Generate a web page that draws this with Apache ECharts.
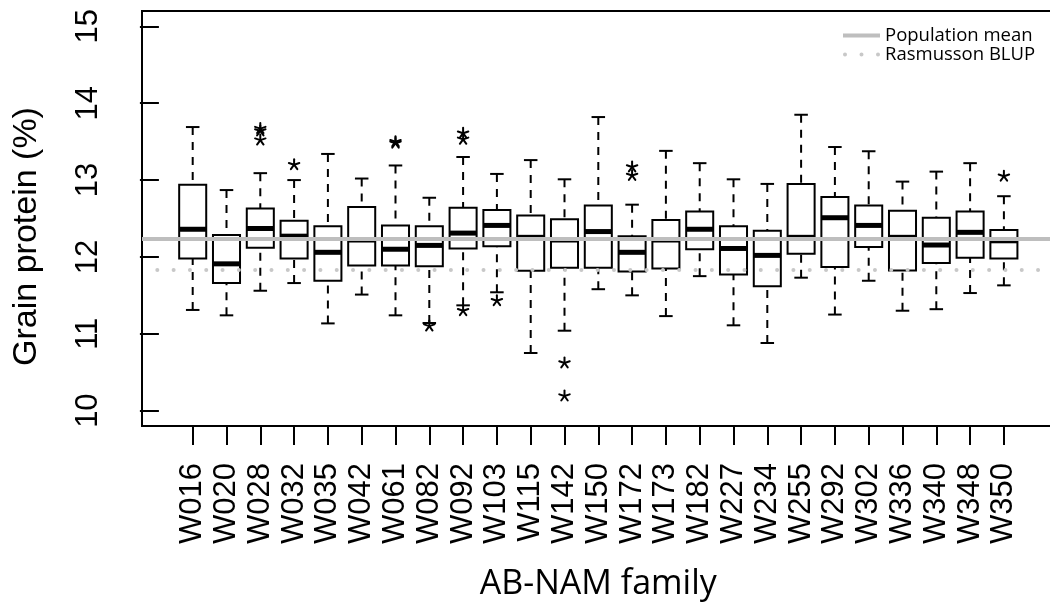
<!DOCTYPE html>
<html>
<head>
<meta charset="utf-8">
<script src="https://cdn.jsdelivr.net/npm/echarts@6/dist/echarts.min.js"></script>
<style>
  html, body { margin: 0; padding: 0; background: #fff; }
  #chart { width: 1050px; height: 602px; }
</style>
</head>
<body>
<div id="chart"></div>
<script>
// AB-NAM families on the x axis
const families = ['W016','W020','W028','W032','W035','W042','W061','W082','W092','W103','W115','W142','W150',
                  'W172','W173','W182','W227','W234','W255','W292','W302','W336','W340','W348','W350'];

// Box-plot statistics per family (grain protein, %)
const whiskerLow  = [11.31,11.24,11.56,11.66,11.135,11.51,11.24,11.14,11.37,11.54,10.75,11.04,11.58,
                     11.50,11.23,11.75,11.11,10.88,11.73,11.25,11.69,11.30,11.32,11.53,11.63];
const quartile1   = [11.98,11.66,12.12,11.98,11.69,11.89,11.89,11.88,12.11,12.14,11.82,11.86,11.86,
                     11.81,11.85,12.10,11.77,11.62,12.04,11.87,12.13,11.825,11.92,11.99,11.98];
const median      = [12.36,11.91,12.37,12.27,12.06,12.22,12.10,12.15,12.31,12.41,12.255,12.22,12.33,
                     12.06,12.22,12.36,12.11,12.02,12.255,12.51,12.41,12.255,12.155,12.32,12.21];
const quartile3   = [12.94,12.285,12.63,12.47,12.40,12.65,12.41,12.40,12.64,12.61,12.54,12.49,12.67,
                     12.27,12.48,12.59,12.40,12.34,12.95,12.78,12.67,12.60,12.51,12.59,12.35];
const whiskerHigh = [13.69,12.87,13.09,13.00,13.34,13.02,13.19,12.77,13.30,13.08,13.26,13.01,13.82,
                     12.68,13.38,13.22,13.01,12.95,13.85,13.43,13.375,12.98,13.11,13.22,12.79];

// Outlying lines (family, value)
const outlierFamily = ['W028','W028','W028','W032','W061','W061','W082','W092','W092','W092',
                       'W103','W142','W142','W172','W172','W350'];
const outlierValue  = [13.67,13.64,13.52,13.20,13.50,13.48,11.10,13.61,13.53,11.30,
                       11.43,10.62,10.19,13.17,13.06,13.05];

// Reference levels
const populationMean = 12.24;
const rasmussonBlup = 11.83;

// Axis ticks
const yTicks = [10, 11, 12, 13, 14, 15];
const xTicks = families.map((f, i) => i + 1);

const boxData = families.map((f, i) =>
  [i + 1, whiskerLow[i], quartile1[i], median[i], quartile3[i], whiskerHigh[i]]);
const outlierData = outlierFamily.map((f, i) => [families.indexOf(f) + 1, outlierValue[i]]);

function renderBox(params, api) {
  const x = api.value(0);
  const lo = api.coord([x, api.value(1)]);
  const q1 = api.coord([x, api.value(2)]);
  const md = api.coord([x, api.value(3)]);
  const q3 = api.coord([x, api.value(4)]);
  const hi = api.coord([x, api.value(5)]);
  const boxW = api.size([0.8, 0])[0];
  const capW = api.size([0.4, 0])[0];
  const cx = lo[0];
  const dashed = { stroke: '#000', lineWidth: 2, lineDash: [8, 7], fill: null };
  const solid = { stroke: '#000', lineWidth: 2, fill: null };
  return {
    type: 'group',
    children: [
      { type: 'line', shape: { x1: cx, y1: lo[1], x2: cx, y2: q1[1] }, style: dashed },
      { type: 'line', shape: { x1: cx, y1: hi[1], x2: cx, y2: q3[1] }, style: dashed },
      { type: 'line', shape: { x1: cx - capW / 2, y1: lo[1], x2: cx + capW / 2, y2: lo[1] }, style: solid },
      { type: 'line', shape: { x1: cx - capW / 2, y1: hi[1], x2: cx + capW / 2, y2: hi[1] }, style: solid },
      { type: 'rect', shape: { x: cx - boxW / 2, y: q3[1], width: boxW, height: q1[1] - q3[1] },
        style: { stroke: '#000', lineWidth: 2, fill: 'none' } },
      { type: 'line', shape: { x1: cx - boxW / 2, y1: md[1], x2: cx + boxW / 2, y2: md[1] },
        style: { stroke: '#000', lineWidth: 5 } }
    ]
  };
}

// five-armed asterisk marker
function renderStar(params, api) {
  const p = api.coord([api.value(0), api.value(1)]);
  const r = 5.5;
  const children = [];
  for (let k = 0; k < 5; k++) {
    const a = -Math.PI / 2 + k * 2 * Math.PI / 5;
    children.push({
      type: 'line',
      shape: { x1: p[0], y1: p[1], x2: p[0] + r * Math.cos(a), y2: p[1] + r * Math.sin(a) },
      style: { stroke: '#000', lineWidth: 2, lineCap: 'round' }
    });
  }
  return { type: 'group', children };
}

const axisFont = 'Liberation Sans';
const chart = echarts.init(document.getElementById('chart'), null, { renderer: 'canvas' });

chart.setOption({
  animation: false,
  backgroundColor: '#fff',
  grid: {
    left: 142, top: 11, width: 912.6, height: 415,
    outerBoundsMode: 'none', containLabel: false,
    show: true, borderColor: '#000', borderWidth: 2, backgroundColor: 'transparent'
  },
  legend: {
    orient: 'vertical',
    left: 843, top: 26, padding: 0,
    itemWidth: 37, itemHeight: 4, itemGap: 0,
    textStyle: { fontFamily: 'Open Sans', fontSize: 18.5, lineHeight: 18, color: '#000' },
    data: [
      { name: 'Population mean', icon: 'rect', itemStyle: { color: '#bebebe' } },
      { name: 'Rasmusson BLUP',
        icon: 'path://M0,2A2,2 0 1,1 4,2A2,2 0 1,1 0,2ZM16.5,2A2,2 0 1,1 20.5,2A2,2 0 1,1 16.5,2ZM33,2A2,2 0 1,1 37,2A2,2 0 1,1 33,2Z',
        itemStyle: { color: '#c8c8c8' } }
    ]
  },
  xAxis: {
    type: 'value', min: -0.5, max: 26.5,
    name: 'AB-NAM family', nameLocation: 'middle', nameGap: 141,
    nameTextStyle: { fontFamily: 'Open Sans', fontSize: 34, color: '#000' },
    axisLine: { show: false },
    splitLine: { show: false },
    axisTick: { show: true, customValues: xTicks, length: 19, lineStyle: { color: '#000', width: 2 } },
    axisLabel: {
      customValues: xTicks, rotate: 90, margin: 37,
      formatter: v => families[Math.round(v) - 1],
      fontFamily: axisFont, fontSize: 31, color: '#000'
    }
  },
  yAxis: {
    type: 'value', min: 9.8, max: 15.2,
    name: 'Grain protein (%)', nameLocation: 'middle', nameRotate: 90, nameGap: 98,
    nameTextStyle: { fontFamily: axisFont, fontSize: 34, color: '#000', padding: [0, 36, 0, 0] },
    axisLine: { show: false },
    splitLine: { show: false },
    axisTick: { show: true, customValues: yTicks, length: 19, lineStyle: { color: '#000', width: 2 } },
    axisLabel: {
      customValues: yTicks, rotate: 90, margin: 38,
      fontFamily: axisFont, fontSize: 31, color: '#000'
    }
  },
  series: [
    {
      name: 'Population mean', type: 'line', data: [], color: '#bebebe',
      markLine: {
        silent: true, symbol: 'none', label: { show: false },
        lineStyle: { color: '#bebebe', width: 4, type: 'solid' },
        data: [{ yAxis: populationMean }]
      },
      z: 1
    },
    {
      name: 'Rasmusson BLUP', type: 'line', data: [], color: '#c8c8c8',
      markLine: {
        silent: true, symbol: 'none', label: { show: false },
        lineStyle: { color: '#c8c8c8', width: 4, type: [0.01, 16.3], cap: 'round', dashOffset: 1 },
        data: [{ yAxis: rasmussonBlup }]
      },
      z: 1
    },
    { type: 'custom', renderItem: renderBox, data: boxData, encode: { x: 0, y: [1, 2, 3, 4, 5] }, z: 3 },
    { type: 'custom', renderItem: renderStar, data: outlierData, encode: { x: 0, y: 1 }, z: 3 }
  ]
});
</script>
</body>
</html>
